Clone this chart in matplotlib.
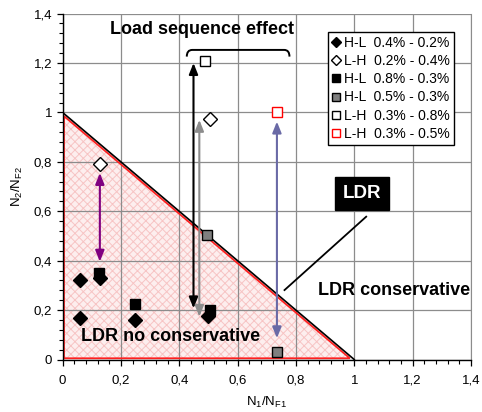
import matplotlib
matplotlib.use("Agg")
import matplotlib.pyplot as plt
from matplotlib.path import Path
from matplotlib.patches import PathPatch, Polygon
from matplotlib.ticker import MultipleLocator, FuncFormatter

plt.rcParams['font.family'] = ['Liberation Sans', 'DejaVu Sans']
plt.rcParams['mathtext.default'] = 'regular'
plt.rcParams['hatch.linewidth'] = 0.7

# ---- data ----
hl_04_02_x = [0.06, 0.06, 0.13, 0.25, 0.50]
hl_04_02_y = [0.32, 0.17, 0.33, 0.16, 0.175]
lh_02_04_x = [0.13, 0.505]
lh_02_04_y = [0.79, 0.975]
hl_08_03_x = [0.125, 0.25, 0.505]
hl_08_03_y = [0.35, 0.225, 0.20]
hl_05_03_x = [0.495, 0.735]
hl_05_03_y = [0.505, 0.032]
lh_03_08_x = [0.49]
lh_03_08_y = [1.21]
lh_03_05_x = [0.735]
lh_03_05_y = [1.0]

labels = ["H-L  0.4% - 0.2%", "L-H  0.2% - 0.4%", "H-L  0.8% - 0.3%",
          "H-L  0.5% - 0.3%", "L-H  0.3% - 0.8%", "L-H  0.3% - 0.5%"]

# arrows: x, y_top, y_bottom, colour
arrow_x = [0.128, 0.449, 0.469, 0.735]
arrow_top = [0.755, 1.20, 0.97, 0.963]
arrow_bot = [0.396, 0.207, 0.173, 0.086]
arrow_col = ['#800080', '#000000', '#8c8c8c', '#6a6aa6']

fig = plt.figure(figsize=(4.82, 4.12), dpi=100)
ax = fig.add_axes([0.1297, 0.1274, 0.977 - 0.1297, 0.967 - 0.1274])
ax.set_xlim(0, 1.4)
ax.set_ylim(0, 1.4)

# grid
ax.xaxis.set_major_locator(MultipleLocator(0.2))
ax.yaxis.set_major_locator(MultipleLocator(0.2))
ax.xaxis.set_minor_locator(MultipleLocator(0.04))
ax.yaxis.set_minor_locator(MultipleLocator(0.04))
ax.grid(True, which='major', color='#8c8c8c', linewidth=0.9, zorder=0)
ax.set_axisbelow(True)
fmt = FuncFormatter(lambda v, p: ('%g' % round(v, 2)).replace('.', ','))
ax.xaxis.set_major_formatter(fmt)
ax.yaxis.set_major_formatter(fmt)
ax.tick_params(which='major', direction='out', length=4, width=0.9, labelsize=9.5, colors='black')
ax.tick_params(which='minor', direction='out', length=3, width=0.8)
ax.tick_params(axis='x', pad=7)
ax.spines['top'].set_visible(False)
ax.spines['right'].set_color('#8c8c8c')
ax.spines['left'].set_linewidth(1.0)
ax.spines['bottom'].set_linewidth(1.0)

# triangle
tri = Polygon([[0.005, 0.005], [0.005, 0.985], [0.985, 0.005]], closed=True,
              facecolor='#fdeeee', edgecolor='#f7c4c4', hatch='xxxx', linewidth=0, zorder=0.2)
ax.add_patch(tri)
tri_edge = Polygon([[0.005, 0.005], [0.005, 0.985], [0.985, 0.005]], closed=True,
                   facecolor='none', edgecolor='#ff2020', linewidth=1.3, zorder=2)
ax.add_patch(tri_edge)
ax.plot([0, 1], [1, 0], color='black', linewidth=1.2, zorder=2)

# arrows
for x, yt, yb, c in zip(arrow_x, arrow_top, arrow_bot, arrow_col):
    ax.annotate('', xy=(x, yt), xytext=(x, yb),
                arrowprops=dict(arrowstyle='<|-|>,head_length=0.55,head_width=0.22',
                                color=c, lw=1.5, shrinkA=0, shrinkB=0, mutation_scale=12),
                zorder=3)

# points
ms = 7
ax.plot(hl_04_02_x, hl_04_02_y, 'D', ms=ms, mfc='black', mec='black', ls='none', label=labels[0], zorder=5)
ax.plot(lh_02_04_x, lh_02_04_y, 'D', ms=ms, mfc='white', mec='black', mew=1, ls='none', label=labels[1], zorder=5)
ax.plot(hl_08_03_x, hl_08_03_y, 's', ms=ms, mfc='black', mec='black', ls='none', label=labels[2], zorder=4)
ax.plot(hl_05_03_x, hl_05_03_y, 's', ms=ms, mfc='#7f7f7f', mec='black', mew=1, ls='none', label=labels[3], zorder=4)
ax.plot(lh_03_08_x, lh_03_08_y, 's', ms=ms, mfc='white', mec='black', mew=1, ls='none', label=labels[4], zorder=5)
ax.plot(lh_03_05_x, lh_03_05_y, 's', ms=ms, mfc='white', mec='red', mew=1, ls='none', label=labels[5], zorder=5)

# bracket
verts = [(0.426, 1.226), (0.426, 1.253), (0.445, 1.253),
         (0.760, 1.253),
         (0.778, 1.253), (0.778, 1.226)]
codes = [Path.MOVETO, Path.CURVE3, Path.CURVE3, Path.LINETO, Path.CURVE3, Path.CURVE3]
ax.add_patch(PathPatch(Path(verts, codes), facecolor='none', edgecolor='black', lw=1.4, zorder=3))

# texts
ax.text(0.478, 1.335, 'Load sequence effect', ha='center', va='center', fontsize=13, fontweight='bold')
ax.text(1.137, 0.281, 'LDR conservative', ha='center', va='center', fontsize=13, fontweight='bold')
ax.text(0.372, 0.092, 'LDR no conservative', ha='center', va='center', fontsize=13, fontweight='bold')
ax.text(1.026, 0.673, 'LDR', ha='center', va='center', fontsize=13.5, fontweight='bold', color='white',
        bbox=dict(boxstyle='square,pad=0.42', facecolor='black', edgecolor='black'))
ax.plot([1.041, 0.761], [0.578, 0.281], color='black', lw=1.3, zorder=3)

ax.set_xlabel(r'N$_1$/N$_{F1}$', fontsize=9.5, labelpad=6)
ax.set_ylabel(r'N$_2$/N$_{F2}$', fontsize=9.5, labelpad=6)

leg = ax.legend(loc='upper left', bbox_to_anchor=(327.7 / 482, 1 - 31.7 / 412),
                bbox_transform=fig.transFigure, borderaxespad=0, fontsize=10,
                frameon=True, fancybox=False, edgecolor='black', framealpha=1,
                handlelength=0.6, handletextpad=0.3, labelspacing=0.3, borderpad=0.3,
                markerscale=0.8)
leg.get_frame().set_linewidth(1.0)
leg.set_zorder(10)

fig.savefig('out.png', dpi=100)
